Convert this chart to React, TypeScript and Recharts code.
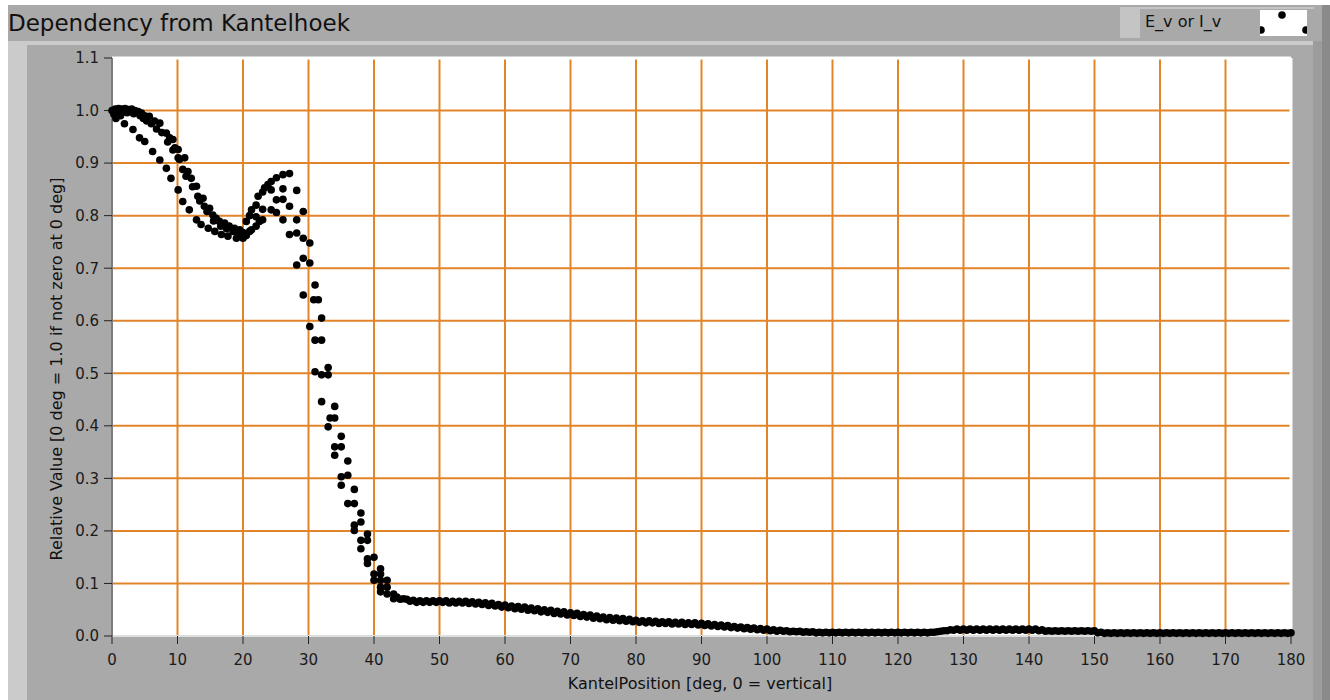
import React from "react";
import {
  ScatterChart,
  Scatter,
  XAxis,
  YAxis,
  CartesianGrid,
  ReferenceLine,
} from "recharts";

// axis ticks
const xTicks = [0, 10, 20, 30, 40, 50, 60, 70, 80, 90, 100, 110, 120, 130, 140, 150, 160, 170, 180];
const yTicks = [0, 0.1, 0.2, 0.3, 0.4, 0.5, 0.6, 0.7, 0.8, 0.9, 1.0, 1.1];

// [deg, relative value]
const topCluster: [number, number][] = [
  [0, 1.0], [0.3, 0.993], [0.5, 1.003], [0.8, 0.997], [1, 1.004], [1.3, 0.99], [1.5, 1.003],
  [1.8, 0.998], [2, 1.004], [2.3, 0.996], [2.5, 1.002], [2.8, 0.999], [3, 1.003], [3.3, 0.994],
  [3.5, 1.0], [3.8, 0.996], [4, 0.998], [4.3, 0.99], [4.5, 0.995], [4.8, 0.985],
];

const denseBand: [number, number][] = [
  [5, 0.99], [5.3, 0.98], [5.7, 0.989], [6, 0.975], [6.5, 0.98], [6.8, 0.965], [7.3, 0.976],
  [7.6, 0.958], [8.3, 0.957], [8.5, 0.94], [8.8, 0.948], [9.3, 0.945], [9.3, 0.925], [9.6, 0.929],
  [10.1, 0.926], [10.1, 0.91], [10.3, 0.907], [11.1, 0.91], [10.8, 0.888], [11.3, 0.875],
  [11.6, 0.884], [12.1, 0.871], [12.3, 0.855], [12.9, 0.856], [13.1, 0.837], [13.4, 0.828],
  [13.9, 0.833], [14.1, 0.818], [14.5, 0.808], [14.9, 0.814], [15.4, 0.801], [15.5, 0.79],
  [15.9, 0.795], [16.4, 0.789], [16.6, 0.78], [17.2, 0.786], [17.5, 0.775], [17.9, 0.78],
  [18.5, 0.77], [18.7, 0.776], [19.3, 0.765], [19.5, 0.773], [20, 0.768],
];

const lowerBranch: [number, number][] = [
  [0.6, 0.985], [1.9, 0.975], [3.2, 0.964], [4.2, 0.948], [5, 0.941], [6.2, 0.922], [7.3, 0.906],
  [8.3, 0.89], [9, 0.871], [10.1, 0.849], [10.8, 0.827], [11.8, 0.811], [12.9, 0.792],
  [13.6, 0.783], [14.7, 0.776], [15.7, 0.77], [16.7, 0.764], [17.7, 0.761], [19, 0.757], [20, 0.757],
];

const humpUpper: [number, number][] = [
  [20.5, 0.789], [21, 0.8], [21.3, 0.811], [22, 0.82], [22.3, 0.837], [23, 0.845], [23.3, 0.853],
  [23.8, 0.859], [24.3, 0.865], [25.1, 0.872], [26.1, 0.878], [27.1, 0.88], [28.2, 0.848],
  [29.2, 0.808], [30.2, 0.748],
];

const humpLower: [number, number][] = [
  [20.5, 0.762], [21, 0.77], [21.3, 0.773], [22, 0.798], [22, 0.78], [22.5, 0.789], [23, 0.792],
  [23, 0.812], [24.3, 0.811], [24.3, 0.849], [25.1, 0.806], [25.1, 0.83], [26.1, 0.831],
  [26.1, 0.792], [26.1, 0.851], [27.1, 0.818], [27.1, 0.764], [28.2, 0.792], [28.2, 0.767],
  [28.2, 0.706], [29.2, 0.757], [29.2, 0.719], [30.2, 0.71],
];

const dropOff: [number, number][] = [
  [29.2, 0.649], [30.2, 0.589], [30.8, 0.64], [31, 0.668], [31.5, 0.64], [31, 0.563], [32, 0.605],
  [32, 0.563], [31, 0.503], [32, 0.497], [33, 0.511], [33, 0.497], [32, 0.446], [34, 0.437],
  [33.3, 0.415], [34, 0.415], [33, 0.398], [35, 0.38], [34, 0.36], [35, 0.36], [34, 0.344],
  [36, 0.333], [35, 0.303], [36, 0.306], [35, 0.287], [37, 0.279], [36, 0.252], [37, 0.252],
  [38, 0.234], [38, 0.217], [37, 0.211], [37, 0.201], [39, 0.194], [39, 0.182], [38, 0.182],
  [38, 0.166], [40, 0.15], [39, 0.147], [39, 0.138], [41, 0.128], [40, 0.118], [41, 0.118],
  [40, 0.106], [41, 0.106], [42, 0.106], [41, 0.093], [42, 0.093], [41, 0.084], [42, 0.08],
  [43, 0.08], [43, 0.071], [43.5, 0.074], [44, 0.07],
];

// tail, forward sweep: one reading per degree from 45 to 180
const tailFwdStart = 45;
const tailFwd = [
  0.070, 0.068, 0.067, 0.067, 0.067, 0.067, 0.067, 0.066, 0.066, 0.066,
  0.065, 0.064, 0.063, 0.062, 0.060, 0.059, 0.057, 0.056, 0.055, 0.053,
  0.052, 0.050, 0.049, 0.047, 0.046, 0.044, 0.043, 0.041, 0.040, 0.038,
  0.036, 0.035, 0.034, 0.033, 0.032, 0.030, 0.029, 0.029, 0.028, 0.027,
  0.027, 0.026, 0.026, 0.025, 0.025, 0.024, 0.023, 0.022, 0.021, 0.020,
  0.018, 0.017, 0.016, 0.015, 0.014, 0.013, 0.012, 0.011, 0.010, 0.009,
  0.009, 0.008, 0.008, 0.007, 0.007, 0.007, 0.007, 0.007, 0.007, 0.007,
  0.007, 0.007, 0.007, 0.007, 0.007, 0.007, 0.007, 0.007, 0.007, 0.007,
  0.007, 0.008, 0.010, 0.012, 0.013, 0.013, 0.013, 0.013, 0.013, 0.013,
  0.013, 0.013, 0.013, 0.013, 0.013, 0.013, 0.013, 0.012, 0.010, 0.010,
  0.010, 0.010, 0.010, 0.010, 0.010, 0.010, 0.007, 0.006, 0.006, 0.006,
  0.006, 0.006, 0.006, 0.006, 0.006, 0.006, 0.006, 0.006, 0.006, 0.006,
  0.006, 0.006, 0.006, 0.006, 0.006, 0.006, 0.006, 0.006, 0.006, 0.006,
  0.006, 0.006, 0.006, 0.006, 0.006, 0.006,
];

// tail, return sweep: readings at the half degrees from 44.5 to 179.5
const tailBackStart = 44.5;
const tailBack = [
  0.071, 0.066, 0.064, 0.064, 0.064, 0.064, 0.064, 0.063, 0.063, 0.063,
  0.062, 0.061, 0.060, 0.058, 0.057, 0.055, 0.054, 0.052, 0.051, 0.049,
  0.048, 0.046, 0.045, 0.043, 0.042, 0.040, 0.039, 0.037, 0.036, 0.034,
  0.033, 0.031, 0.030, 0.029, 0.028, 0.027, 0.026, 0.025, 0.025, 0.024,
  0.024, 0.023, 0.023, 0.022, 0.022, 0.021, 0.020, 0.019, 0.018, 0.017,
  0.016, 0.015, 0.014, 0.013, 0.012, 0.011, 0.010, 0.009, 0.009, 0.008,
  0.008, 0.007, 0.007, 0.006, 0.006, 0.006, 0.006, 0.006, 0.006, 0.006,
  0.006, 0.006, 0.006, 0.006, 0.006, 0.006, 0.006, 0.006, 0.006, 0.006,
  0.006, 0.007, 0.009, 0.010, 0.011, 0.011, 0.011, 0.011, 0.011, 0.011,
  0.011, 0.011, 0.011, 0.011, 0.011, 0.011, 0.011, 0.010, 0.009, 0.009,
  0.009, 0.009, 0.009, 0.009, 0.009, 0.009, 0.006, 0.005, 0.005, 0.005,
  0.005, 0.005, 0.005, 0.005, 0.005, 0.005, 0.005, 0.005, 0.005, 0.005,
  0.005, 0.005, 0.005, 0.005, 0.005, 0.005, 0.005, 0.005, 0.005, 0.005,
  0.005, 0.005, 0.005, 0.005, 0.005, 0.005,
];

const fromPairs = (list: [number, number][]) => list.map(([x, y]) => ({ x, y }));
const fromSweep = (start: number, step: number, vals: number[]) =>
  vals.map((y, i) => ({ x: start + i * step, y }));

const scanData = [
  ...fromPairs(topCluster),
  ...fromPairs(denseBand),
  ...fromPairs(lowerBranch),
  ...fromPairs(humpUpper),
  ...fromPairs(humpLower),
  ...fromPairs(dropOff),
  ...fromSweep(tailFwdStart, 1, tailFwd),
  ...fromSweep(tailBackStart, 1, tailBack),
];

const FONT = '"DejaVu Sans", Verdana, sans-serif';
const PANEL = "#a9a9a9";
const LIGHT = "#cbcbcb";
const GRID = "#e2852a";

const Dot = (props: any) => <circle cx={props.cx} cy={props.cy} r={3.8} fill="#000" />;

export default function App() {
  return (
    <div
      style={{
        position: "absolute",
        left: 0,
        top: 0,
        width: 1330,
        height: 700,
        background: "#fff",
        overflow: "hidden",
        fontFamily: FONT,
      }}
    >
      {/* panel + frame */}
      <div style={{ position: "absolute", left: 8, top: 5, width: 1322, height: 695, background: PANEL }} />
      <div style={{ position: "absolute", left: 8, top: 41, width: 1305, height: 4, background: LIGHT }} />
      <div style={{ position: "absolute", left: 8, top: 41, width: 19, height: 659, background: LIGHT }} />
      <div style={{ position: "absolute", left: 1313, top: 41, width: 9, height: 659, background: "#9c9c9c" }} />
      <div style={{ position: "absolute", left: 1322, top: 5, width: 8, height: 695, background: "#8a8a8a" }} />

      <div
        style={{
          position: "absolute",
          left: 8,
          top: 9,
          fontSize: 23,
          lineHeight: "28px",
          color: "#111",
          whiteSpace: "nowrap",
        }}
      >
        Dependency from Kantelhoek
      </div>

      {/* legend */}
      <div style={{ position: "absolute", left: 1120, top: 7, width: 194, height: 31, background: "#c4c4c4" }} />
      <div style={{ position: "absolute", left: 1140, top: 9, width: 174, height: 29, background: PANEL }} />
      <div style={{ position: "absolute", left: 1145, top: 12, fontSize: 16, lineHeight: "20px", color: "#111", whiteSpace: "nowrap" }}>
        E_v or I_v
      </div>
      <svg style={{ position: "absolute", left: 1260, top: 10 }} width={47} height={26}>
        <rect x={0} y={0} width={47} height={26} fill="#fff" />
        <circle cx={22} cy={5} r={3.8} fill="#000" />
        <circle cx={1} cy={20} r={3.8} fill="#000" />
        <circle cx={46} cy={20} r={3.8} fill="#000" />
      </svg>

      <div style={{ position: "absolute", left: 0, top: 0 }}>
        <ScatterChart width={1330} height={700} margin={{ top: 58, right: 39, bottom: 34, left: 52 }}>
          <CartesianGrid fill="#fff" stroke={GRID} strokeWidth={2} strokeOpacity={1} />
          <ReferenceLine y={1.1} stroke="#fff" strokeWidth={3} />
          <ReferenceLine x={180} stroke="#fff" strokeWidth={3} />
          <XAxis
            type="number"
            dataKey="x"
            domain={[0, 180]}
            ticks={xTicks}
            interval={0}
            height={30}
            tickSize={8}
            tickMargin={10}
            axisLine={{ stroke: "#dedede", strokeWidth: 2 }}
            tickLine={{ stroke: "#222", strokeWidth: 1 }}
            tick={{ fill: "#1a1a1a", fontSize: 15, fontFamily: FONT }}
          />
          <YAxis
            type="number"
            dataKey="y"
            domain={[0, 1.1]}
            ticks={yTicks}
            interval={0}
            width={60}
            tickSize={8}
            tickMargin={5}
            tickFormatter={(v: number) => v.toFixed(1)}
            axisLine={{ stroke: "#7c7c7c", strokeWidth: 2 }}
            tickLine={{ stroke: "#222", strokeWidth: 1 }}
            tick={{ fill: "#1a1a1a", fontSize: 15, fontFamily: FONT }}
          />
          <Scatter name="E_v or I_v" data={scanData} shape={Dot} isAnimationActive={false} />
        </ScatterChart>
      </div>

      {/* axis titles */}
      <div
        style={{
          position: "absolute",
          left: 56,
          top: 369,
          transform: "translate(-50%, -50%) rotate(-90deg)",
          fontSize: 16,
          color: "#111",
          whiteSpace: "nowrap",
        }}
      >
        Relative Value [0 deg = 1.0 if not zero at 0 deg]
      </div>
      <div
        style={{
          position: "absolute",
          left: 700,
          top: 674,
          transform: "translateX(-50%)",
          fontSize: 16,
          lineHeight: "20px",
          color: "#111",
          whiteSpace: "nowrap",
        }}
      >
        KantelPosition [deg, 0 = vertical]
      </div>
    </div>
  );
}
